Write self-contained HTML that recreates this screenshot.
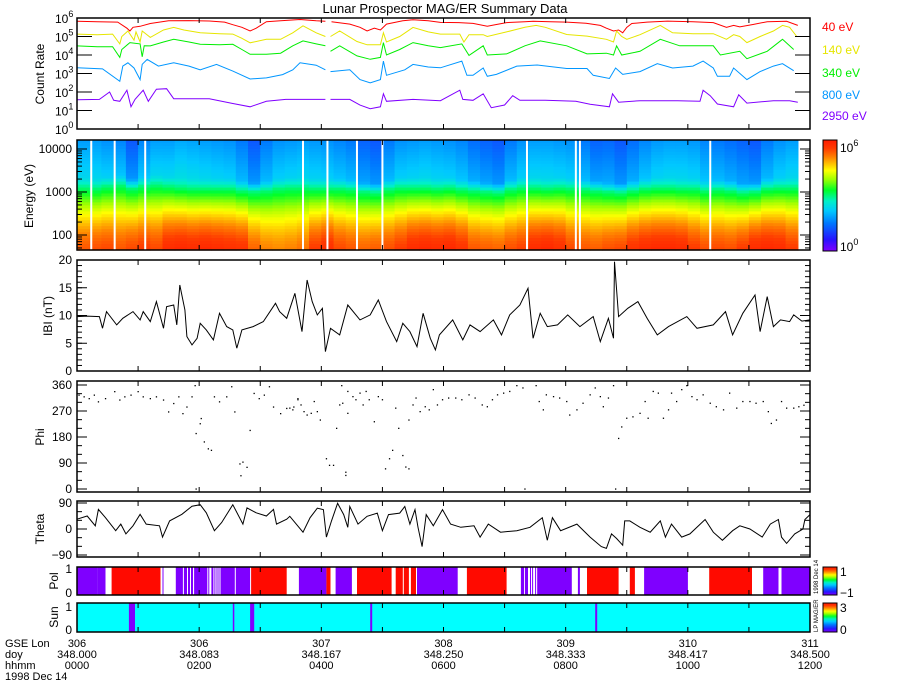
<!DOCTYPE html>
<html><head><meta charset="utf-8"><title>Lunar Prospector MAG/ER Summary Data</title>
<style>
html,body{margin:0;padding:0;background:#fff;}
svg{display:block;font-family:"Liberation Sans",sans-serif;}
text{fill:#000;font-size:12px;}
</style></head>
<body>
<svg id="chart" width="900" height="700" viewBox="0 0 900 700" xmlns="http://www.w3.org/2000/svg">
<text x="445" y="13" text-anchor="middle" style="font-size:13px">Lunar Prospector MAG/ER Summary Data</text>
</svg>
<script>
// ===== data arrays (time in minutes after 0000 UT) =====
const timeTickMinutes = [0,120,240,360,480,600,720];
const gseLonLabels = ["306","306","307","308","309","310","311"];
const doyLabels = ["348.000","348.083","348.167","348.250","348.333","348.417","348.500"];
const hhmmLabels = ["0000","0200","0400","0600","0800","1000","1200"];

const cr40T = [0,20,40,49,52,55,62,72,90,110,130,145,153,162,170,176,186,200,219,235,244,246,250,268,278,285,292,298,304,320,330,345,357,375,389,403,412,422,440,448,465,481,500,514,520,527,532,536,540,545,560,580,605,625,638,645,651,664,678,697,708];
const cr40V = [5.82,5.8,5.78,5.45,5.3,5.5,5.55,5.7,5.85,5.86,5.84,5.78,5.64,5.5,5.3,5.45,5.8,5.85,5.92,5.85,5.82,null,5.8,5.67,5.5,5.3,5.45,5.35,5.67,5.85,5.9,5.85,5.76,5.75,5.71,5.55,5.65,5.75,5.8,5.82,5.8,5.78,5.72,5.6,5.45,5.3,5.35,5.2,5.5,5.7,5.78,5.83,5.8,5.75,5.5,5.6,5.52,5.65,5.8,5.82,5.6];
const cr140T = [0,20,35,42,44,50,56,58,62,64,72,85,95,105,121,140,153,162,170,186,200,212,222,235,244,246,249,258,275,285,298,301,304,317,330,345,357,376,380,385,399,403,422,440,451,460,481,501,520,527,530,535,540,553,573,585,605,625,638,645,651,658,671,684,693,700,707];
const cr140V = [5.13,5.1,5.13,4.6,5.0,5.3,4.8,5.25,4.7,5.3,4.95,5.35,5.49,5.35,5.2,5.15,5.13,4.9,4.66,4.85,4.85,5.2,5.58,5.2,5.0,null,5.0,5.3,4.73,4.55,4.55,5.2,4.7,5.0,5.49,5.25,5.13,5.13,4.7,5.1,5.1,5.0,5.25,5.5,5.6,5.5,5.11,5.02,4.85,4.7,5.3,5.0,4.85,5.1,5.6,5.2,5.15,5.15,4.85,5.1,5.0,4.67,5.0,5.3,5.6,5.5,5.0];
const cr340T = [0,20,35,42,44,52,62,64,66,72,85,95,110,121,140,153,162,170,186,200,212,222,235,244,246,249,258,275,288,298,301,304,317,330,345,357,378,385,399,403,422,440,455,481,501,520,527,530,535,553,573,592,625,632,651,658,678,693,704];
const cr340V = [4.49,4.45,4.45,3.87,4.3,4.67,4.6,3.9,4.5,4.49,4.7,4.85,4.7,4.58,4.55,4.58,4.3,4.04,4.04,4.1,4.5,4.76,4.6,4.5,null,4.2,4.5,3.95,3.77,3.87,4.67,4.0,4.3,4.67,4.5,4.4,4.6,3.98,4.5,4.0,4.06,4.5,4.76,4.5,4.06,4.1,4.0,4.5,4.0,4.2,4.85,4.5,4.5,4.0,4.2,3.8,4.2,4.85,4.3];
const cr800T = [0,25,42,45,50,56,62,64,69,80,95,110,121,137,153,170,186,202,212,219,235,244,246,249,268,278,288,298,301,304,322,330,345,357,378,383,389,399,403,412,432,452,481,501,507,523,529,536,553,570,585,605,615,625,629,641,645,658,671,684,693,704];
const cr800V = [3.31,3.25,2.58,3.4,3.58,3.3,2.67,3.5,3.76,3.4,3.58,3.4,3.2,3.49,3.13,2.7,2.76,2.94,3.2,3.58,3.45,3.2,null,3.1,3.2,2.67,2.49,2.67,3.67,2.9,3.2,3.49,3.35,3.31,3.67,2.9,2.9,3.3,2.85,2.95,3.4,3.46,3.27,3.27,2.9,2.73,3.3,2.95,3.1,3.53,3.3,3.4,3.67,3.3,2.85,2.85,3.3,2.67,3.1,3.4,3.53,3.15];
const cr2950T = [0,22,32,36,42,49,53,57,65,70,78,88,95,105,130,153,170,186,205,240,244,246,249,268,278,288,298,301,304,330,357,376,379,389,399,407,420,428,435,460,490,504,523,526,532,553,590,612,615,622,629,645,650,658,684,700,708];
const cr2950V = [1.58,1.6,2.0,1.55,1.5,2.1,1.2,1.6,2.1,1.5,2.15,2.18,1.64,1.64,1.64,1.38,1.2,1.5,1.6,1.6,1.6,null,1.6,1.6,1.29,1.1,1.2,1.9,1.5,1.6,1.53,2.1,1.6,1.55,1.9,1.15,1.3,1.8,1.55,1.55,1.5,1.34,1.2,1.9,1.45,1.53,1.53,1.5,2.1,1.8,1.35,1.2,1.85,1.4,1.53,1.53,1.45];

// spectrogram: columns every 12 minutes
const specT = [0,12,24,36,48,60,72,84,96,108,120,132,144,156,168,180,192,204,216,228,240,252,264,276,288,300,312,324,336,348,360,372,384,396,408,420,432,444,456,468,480,492,504,516,528,540,552,564,576,588,600,612,624,636,648,660,672,684,696,708];
const specLo = [5.4,5.45,5.5,5.4,5.5,5.6,5.5,5.8,5.85,5.8,5.85,5.8,5.75,5.7,5.3,5.1,5.05,5.1,5.2,5.6,5.75,5.5,5.4,5.3,5.35,5.45,5.6,5.8,5.85,5.8,5.85,5.7,5.4,5.35,5.3,5.45,5.55,5.8,5.85,5.75,5.5,5.4,5.35,5.45,5.5,5.7,5.8,5.85,5.85,5.8,5.6,5.45,5.5,5.45,5.6,5.8,5.85,5.8,5.6,5.4];
const specHi = [1.8,1.8,1.7,1.6,1.2,1.6,1.8,1.8,1.9,1.85,1.8,1.75,1.7,1.5,1.2,1.5,1.7,1.75,1.8,1.75,1.7,1.6,1.5,1.3,1.2,1.5,1.7,1.75,1.8,1.75,1.7,1.6,1.4,1.3,1.2,1.5,1.7,1.8,1.8,1.75,1.7,1.5,1.3,1.35,1.2,1.4,1.6,1.75,1.8,1.8,1.75,1.6,1.5,1.4,1.3,1.2,1.5,1.7,1.8,1.8];
const specEdge = [3.22,3.2,3.25,3.28,3.2,3.25,3.28,3.25,3.22,3.2,3.2,3.2,3.2,3.15,3.12,3.15,3.2,3.22,3.22,3.2,3.2,3.2,3.18,3.12,3.1,3.18,3.22,3.22,3.22,3.2,3.22,3.18,3.15,3.12,3.1,3.18,3.22,3.22,3.2,3.22,3.2,3.18,3.15,3.12,3.1,3.15,3.2,3.22,3.22,3.2,3.2,3.15,3.18,3.15,3.1,3.12,3.2,3.22,3.22,3.2];
const specGapT = [14,37,67,222,246,275,300,442,490,494,622];

// |B|
const bT = [0,10,22,25,29,39,45,55,62,65,72,78,85,88,95,98,101,106,108,113,118,121,127,134,140,147,153,157,162,173,183,195,199,206,214,221,226,231,236,241,244,249,258,266,278,288,296,304,314,320,327,334,340,347,352,356,369,379,386,396,409,417,425,435,443,448,455,462,472,482,494,507,514,522,527,528,532,541,551,560,570,581,599,609,625,637,644,654,666,671,678,684,691,700,704,712,720];
const bV = [9.8,9.9,9.8,7.7,10.7,8.3,9.5,10.7,9.2,10.7,8.9,12.5,7.7,11.6,11.9,8.3,15.5,11,6.2,4.7,5.9,8.6,7.4,5.6,10.4,8,7.4,4.1,7.4,8,8.9,12.2,10.7,9.5,14,7.1,16.4,12.5,10.1,11.3,3.5,7.7,6.5,11.9,9.2,10.1,12.8,8.9,5.3,8.6,7.1,4.4,10.4,5.9,3.8,6.5,9.2,5.6,8.3,7.1,9.2,6.5,10.1,11.9,14.9,5.9,10.4,8,8.3,10.1,8,9.8,5.3,9.5,5.9,19.7,9.8,11.3,12.5,9.5,6.5,8,9.8,7.7,8.3,10.7,6.5,10.4,13.7,7.1,13.4,8,9.2,8.9,10.1,9,9.2];

// Phi (scatter)
const phiT = [2,7,12,17,21,28,37,42,47,53,60,65,72,78,85,90,95,100,104,108,113,116,117,121,122,125,129,132,117,135,140,147,152,155,160,163,167,170,161,174,179,184,189,193,200,206,213,217,209,212,217,220,223,226,230,233,236,239,245,248,252,255,258,260,261,264,264,266,266,271,274,278,281,284,287,292,296,300,303,307,310,313,316,320,323,326,326,330,333,337,342,346,350,354,359,365,372,378,385,391,398,403,408,413,419,425,432,438,440,451,454,458,461,468,474,481,484,491,497,504,509,514,517,522,527,529,532,535,540,546,553,558,561,566,571,576,581,584,589,594,599,604,609,615,622,628,635,641,648,654,661,667,674,679,682,687,692,697,704,709,714];
const phiV = [325,319,313,325,302,313,337,308,319,325,337,319,313,319,308,267,296,319,261,284,319,358,192,226,244,163,139,134,0,319,302,319,354,267,87,93,75,203,46,331,313,325,354,284,261,279,284,313,280,274,309,291,268,256,262,303,268,239,105,82,82,210,291,358,297,58,47,338,262,320,309,332,291,338,309,233,320,309,70,105,134,280,210,116,76,70,239,291,315,268,285,274,344,291,309,315,315,309,326,315,291,285,309,326,332,338,358,350,0,358,303,274,326,320,315,303,256,274,297,326,350,320,285,315,358,0,175,215,245,250,262,303,245,338,332,245,274,332,303,344,358,320,309,326,297,285,274,332,280,303,303,297,303,268,227,239,303,280,280,285,290];

// Theta
const thT = [0,10,18,21,28,38,43,48,55,62,68,81,84,91,103,113,121,127,135,142,153,163,167,176,186,193,196,206,209,222,229,236,242,245,250,256,262,266,268,276,285,295,300,306,317,322,327,332,335,339,343,350,359,367,377,390,396,404,416,432,445,457,462,467,475,491,504,515,520,525,530,536,538,543,553,563,573,578,584,594,602,617,625,634,644,651,661,673,681,689,692,697,705,713,715,720];
const thV = [34,45,11,68,39,-6,17,-17,11,51,17,11,-28,28,51,79,84,56,-6,22,84,17,73,56,45,68,17,34,44,-11,39,72,67,-28,28,89,50,6,78,17,44,55,-6,50,55,78,17,67,6,-61,50,11,67,17,6,11,-28,17,-11,-6,6,39,-39,39,-6,17,-28,-61,-67,-17,-33,-56,28,28,6,-11,28,-28,17,-28,-17,33,-11,-39,-6,11,0,-28,17,33,-28,-50,-17,0,33,50];

// Polarity segments (minutes) : 1 = red, -1 = purple
const polStart = [0,20,34,84,97,105,109,112,115,129,132,135,137,139,141,156,171,218,245,254,275,313,321,328,334,383,436,440,445,447,450,452,492,501,543,557,621,674,692];
const polEnd   = [20,28,82,85,104,108,111,114,128,130,134,136,138,140,155,170,206,245,249,270,309,320,326,333,374,422,439,443,446,448,451,486,494,532,548,600,663,689,720];
const polVal   = [-1,-1,1,-1,-1,-1,-1,-1,-1,-1,-1,-1,-1,-1,-1,-1,1,-1,1,-1,1,1,1,1,-1,1,-1,-1,-1,-1,-1,-1,-1,1,1,-1,1,-1,-1];
// Sun shadow intervals (minutes)
const shadowStart = [51,153,170,288,509];
const shadowEnd   = [57,154,174,290,511];

// ===== helpers =====
const svg = document.getElementById('chart');
const NS = 'http://www.w3.org/2000/svg';
const X0 = 77, X1 = 810;
function xT(m){ return X0 + m*(X1-X0)/720; }
function mk(tag, parent){ const e = document.createElementNS(NS, tag); (parent||svg).appendChild(e); return e; }
function line(x1,y1,x2,y2,parent,col,w){ const l = mk('line',parent); l.setAttribute('x1',x1); l.setAttribute('y1',y1); l.setAttribute('x2',x2); l.setAttribute('y2',y2); l.setAttribute('stroke',col||'#000'); l.setAttribute('stroke-width',w||1); return l; }
function txt(x,y,s,anchor,parent,size){ const t = mk('text',parent); t.setAttribute('x',x); t.setAttribute('y',y); t.setAttribute('text-anchor',anchor||'start'); if(size) t.style.fontSize=size+'px'; t.textContent = s; return t; }
const stops = [[0,[127,0,255]],[0.1,[40,20,255]],[0.25,[0,120,255]],[0.36,[0,200,255]],[0.45,[0,240,200]],[0.55,[0,255,40]],[0.65,[160,255,0]],[0.73,[255,255,0]],[0.85,[255,130,0]],[0.93,[255,60,0]],[1,[255,30,0]]];
function cmap(t){ t=Math.max(0,Math.min(1,t)); for(let i=1;i<stops.length;i++){ if(t<=stops[i][0]){ const a=stops[i-1],b=stops[i]; const f=(t-a[0])/(b[0]-a[0]); const c=a[1].map((v,k)=>Math.round(v+(b[1][k]-v)*f)); return 'rgb('+c.join(',')+')'; } } return 'rgb(255,30,0)'; }

function frame(top,bottom,name){ const r = mk('rect'); r.setAttribute('x',X0); r.setAttribute('y',top); r.setAttribute('width',X1-X0); r.setAttribute('height',bottom-top); r.setAttribute('fill','none'); r.setAttribute('stroke','#000'); r.setAttribute('stroke-width',1.5);
  
  
  for(let h=0; h<=12; h++){ const x = xT(h*60); line(x,bottom,x,bottom-5); line(x,top,x,top+5); }
}
function ytitle(x,y,s,name){ const t = txt(x,y,s,'middle'); t.setAttribute('transform','rotate(-90 '+x+' '+y+')');
  
  
}
function linTicks(top,bottom,vmin,vmax,majors,minorStep,labelFn){ const y=v=>bottom-(v-vmin)/(vmax-vmin)*(bottom-top);
  for(let v=vmin; v<=vmax+1e-9; v+=minorStep){ const yy=y(v); line(X0,yy,X0+5,yy); line(X1,yy,X1-5,yy); }
  majors.forEach(v=>{ const yy=y(v); line(X0,yy,X0+10,yy); line(X1,yy,X1-10,yy); const t=txt(72,yy+4,labelFn(v),'end');
    
    
  });
}
function drawLine(T,V,yf,col,name){ let d=''; let pen=false; for(let i=0;i<T.length;i++){ if(V[i]===null){pen=false;continue;} d+=(pen?'L':'M')+xT(T[i]).toFixed(1)+' '+yf(V[i]).toFixed(1)+' '; pen=true; }
  const p = mk('path'); p.setAttribute('d',d); p.setAttribute('fill','none'); p.setAttribute('stroke',col); p.setAttribute('stroke-width',1);
  
  
}

// ===== Panel 1: count rates =====
(function(){
  const top=18,bottom=129; const y=v=>bottom-v/6*(bottom-top);
  const series=[[cr40T,cr40V,'#ff0000','40 eV'],[cr140T,cr140V,'#e6e600','140 eV'],[cr340T,cr340V,'#00ee00','340 eV'],[cr800T,cr800V,'#0096ff','800 eV'],[cr2950T,cr2950V,'#8000ff','2950 eV']];
  const ly=[31,54,77,99,120];
  series.forEach((s,i)=>{ drawLine(s[0],s[1],y,s[2],'count-rate-'+s[3].replace(' ','')); const t=txt(822,ly[i],s[3]); t.style.fill=s[2];
    
    
  });
  frame(top,bottom,'count-rate-panel');
  for(let k=0;k<=6;k++){ const yy=y(k); line(X0,yy,X0+15,yy); line(X1,yy,X1-15,yy);
    const t=txt(55,yy+5,'10'); const s=mk('tspan',t); s.setAttribute('dy',-6); s.style.fontSize='9px'; s.textContent=String(k);
    
    
  }
  ytitle(44,74,'Count Rate','y-axis-title-count-rate');
})();

// ===== Panel 2: spectrogram =====
(function(){
  const top=140,bottom=250; const g=mk('g');  
  const yE=le=>192-(le-3)*43; const lmin=1.65,lmax=4.21; const rows=37; const rh=(bottom-top)/rows;
  function prof(i,le){ const lo=specLo[i],hi=specHi[i],ed=specEdge[i]; let v;
    if(le<ed-0.12){ const f=(le-lmin)/(ed-0.12-lmin); v=lo+(3.0-lo)*Math.pow(Math.max(0,f),1.5); }
    else if(le<ed+0.1) v=3.0+(hi+0.55-3.0)*(le-(ed-0.12))/0.22;
    else v=hi+0.55-0.55*(le-(ed+0.1))/(lmax-ed-0.1);
    return v; }
  for(let i=0;i<specT.length;i++){ const xa=xT(specT[i]); const xb=xT(Math.min(specT[i]+12,708));
    for(let r=0;r<rows;r++){ const yt=top+r*rh; const le=lmax-(r+0.5)*(lmax-lmin)/rows;
      const c=mk('rect',g); c.setAttribute('x',xa.toFixed(1)); c.setAttribute('y',yt.toFixed(1)); c.setAttribute('width',(xb-xa+0.6).toFixed(1)); c.setAttribute('height',(rh+0.6).toFixed(1)); c.setAttribute('fill',cmap(prof(i,le)/6));
      
      
    } }
  specGapT.forEach(m=>{ const l=line(xT(m),top,xT(m),bottom,g,'#fff',2);
    
    
  });
  frame(top,bottom,'spectrogram-panel');
  for(let d=1;d<=4;d++){ for(let k=1;k<=9;k++){ const le=d+Math.log10(k); if(le<lmin||le>lmax) continue; const yy=yE(le); const len=k===1?10:5; line(X0,yy,X0+len,yy); line(X1,yy,X1-len,yy); } }
  [[2,'100'],[3,'1000'],[4,'10000']].forEach(a=>{ const t=txt(72,yE(a[0])+4,a[1],'end');
    
    
  });
  ytitle(33,196,'Energy (eV)','y-axis-title-energy');
  // colorbar
  const cb=mk('g');  
  for(let k=0;k<111;k++){ const r=mk('rect',cb); r.setAttribute('x',823); r.setAttribute('y',251-k-1); r.setAttribute('width',14); r.setAttribute('height',1.2); r.setAttribute('fill',cmap(k/110)); }
  const f=mk('rect',cb); f.setAttribute('x',823); f.setAttribute('y',140); f.setAttribute('width',14); f.setAttribute('height',111); f.setAttribute('fill','none'); f.setAttribute('stroke','#000');
  [[0,251],[6,152]].forEach(a=>{ const t=txt(840,a[1],'10',undefined,cb); const s=mk('tspan',t); s.setAttribute('dy',-6); s.style.fontSize='9px'; s.textContent=String(a[0]); });
})();

// ===== Panel 3: |B| =====
(function(){ const top=260,bottom=371; const y=v=>bottom-v/20*(bottom-top);
  drawLine(bT,bV,y,'#000','b-magnitude-line'); frame(top,bottom,'b-magnitude-panel');
  linTicks(top,bottom,0,20,[0,5,10,15,20],1,v=>String(v)); ytitle(52,316,'IBI (nT)','y-axis-title-b');
})();

// ===== Panel 4: Phi =====
(function(){ const top=381,bottom=492; const y=v=>489-v/360*(489-385);
  const g=mk('g');  
  for(let i=0;i<phiT.length;i++){ const r=mk('rect',g); r.setAttribute('x',(xT(phiT[i])-0.6).toFixed(1)); r.setAttribute('y',(y(phiV[i])-0.6).toFixed(1)); r.setAttribute('width',1.3); r.setAttribute('height',1.3); r.setAttribute('fill','#000');
    
    
  }
  frame(top,bottom,'phi-panel');
  for(let v=0;v<=360;v+=30){ const yy=y(v); const len=v%90===0?10:5; line(X0,yy,X0+len,yy); line(X1,yy,X1-len,yy); }
  [0,90,180,270,360].forEach(v=>{ const t=txt(72,y(v)+4,String(v),'end');
    
    
  });
  ytitle(44,437,'Phi','y-axis-title-phi');
})();

// ===== Panel 5: Theta =====
(function(){ const top=501,bottom=557; const y=v=>529-v/90*26;
  drawLine(thT,thV,y,'#000','theta-line'); frame(top,bottom,'theta-panel');
  for(let v=-90;v<=90;v+=30){ const yy=y(v); const len=v%90===0?10:5; line(X0,yy,X0+len,yy); line(X1,yy,X1-len,yy); }
  [-90,0,90].forEach(v=>{ const t=txt(72,y(v)+4,v<0?'\u221290':String(v),'end');
    
    
  });
  ytitle(44,529,'Theta','y-axis-title-theta');
})();

// ===== Panel 6: Pol =====
(function(){ const top=567,bottom=595;
  const g=mk('g');  
  for(let i=0;i<polStart.length;i++){ const r=mk('rect',g); r.setAttribute('x',xT(polStart[i]).toFixed(1)); r.setAttribute('y',top); r.setAttribute('width',(xT(polEnd[i])-xT(polStart[i])).toFixed(1)); r.setAttribute('height',bottom-top); r.setAttribute('fill',polVal[i]>0?'#ff0a00':'#7f00ff');
    
    
  }
  frame(top,bottom,'polarity-panel');
  txt(72,573,'1','end'); txt(72,597,'0','end'); ytitle(58,581,'Pol','y-axis-title-pol');
  const cb=mk('g');  
  for(let k=0;k<28;k++){ const r=mk('rect',cb); r.setAttribute('x',823); r.setAttribute('y',595-k-1); r.setAttribute('width',14); r.setAttribute('height',1.2); r.setAttribute('fill',cmap(k/27)); }
  const f=mk('rect',cb); f.setAttribute('x',823); f.setAttribute('y',567); f.setAttribute('width',14); f.setAttribute('height',28); f.setAttribute('fill','none'); f.setAttribute('stroke','#000');
  txt(840,576,'1',undefined,cb); txt(840,597,'\u22121',undefined,cb);
  const s=txt(818,594,'1998 Dec 14',undefined,undefined,6); s.setAttribute('transform','rotate(-90 818 594)');
  
  
})();

// ===== Panel 7: Sun =====
(function(){ const top=603,bottom=632;
  const bg=mk('rect'); bg.setAttribute('x',X0); bg.setAttribute('y',top); bg.setAttribute('width',X1-X0); bg.setAttribute('height',bottom-top); bg.setAttribute('fill','#00ffff');
  
  
  for(let i=0;i<shadowStart.length;i++){ const r=mk('rect'); r.setAttribute('x',xT(shadowStart[i]).toFixed(1)); r.setAttribute('y',top); r.setAttribute('width',Math.max(1.5,xT(shadowEnd[i])-xT(shadowStart[i])).toFixed(1)); r.setAttribute('height',bottom-top); r.setAttribute('fill','#8000ff');
    
    
  }
  frame(top,bottom,'sun-panel');
  txt(72,611,'1','end'); txt(72,634,'0','end'); ytitle(58,617,'Sun','y-axis-title-sun');
  const cb=mk('g');  
  for(let k=0;k<29;k++){ const r=mk('rect',cb); r.setAttribute('x',823); r.setAttribute('y',632-k-1); r.setAttribute('width',14); r.setAttribute('height',1.2); r.setAttribute('fill',cmap(k/28)); }
  const f=mk('rect',cb); f.setAttribute('x',823); f.setAttribute('y',603); f.setAttribute('width',14); f.setAttribute('height',29); f.setAttribute('fill','none'); f.setAttribute('stroke','#000');
  txt(840,612,'3',undefined,cb); txt(840,634,'0',undefined,cb);
  const s=txt(818,632,'LP MAG/ER',undefined,undefined,6); s.setAttribute('transform','rotate(-90 818 632)');
  
  
})();

// ===== time axis labels =====
(function(){
  const rowsY=[647,658,669];
  [['GSE Lon',0],['doy',1],['hhmm',2]].forEach(a=>{ const t=txt(5,rowsY[a[1]],a[0],undefined,undefined,11);
    
    
  });
  const d=txt(5,680,'1998 Dec 14',undefined,undefined,11);
  
  
  for(let i=0;i<timeTickMinutes.length;i++){ const x=xT(timeTickMinutes[i]);
    [gseLonLabels[i],doyLabels[i],hhmmLabels[i]].forEach((s,k)=>{ const t=txt(x,rowsY[k],s,'middle',undefined,11);
      
      
    });
  }
})();
</script>
</body></html>
